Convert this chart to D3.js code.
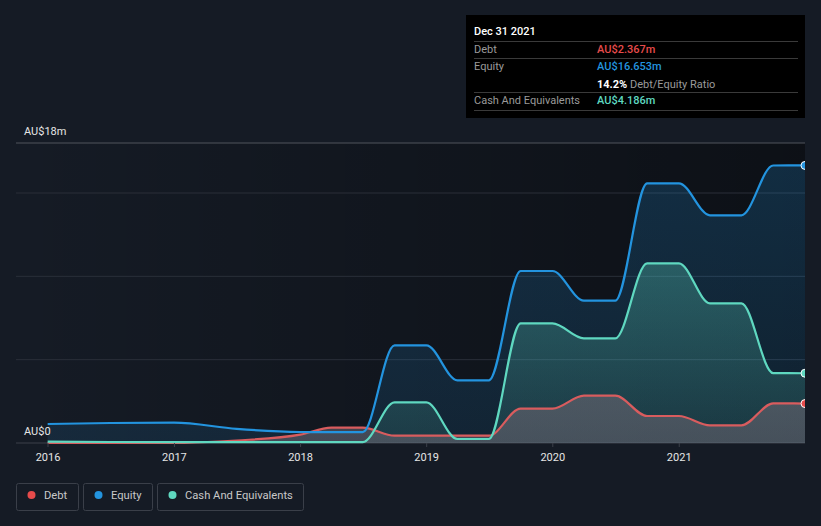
<!DOCTYPE html>
<html><head><meta charset="utf-8">
<script src="https://cdn.jsdelivr.net/npm/d3@7"></script>
<style>
html,body{margin:0;padding:0;background:#151b25;}
svg{display:block;font-family:Roboto,"Noto Sans",sans-serif;}
</style></head>
<body><svg id="c" width="821" height="526"></svg>
<script>
const dates = ["2015-12-31","2016-06-30","2016-12-31","2017-06-30","2017-12-31","2018-03-31","2018-06-30","2018-09-30","2018-12-31","2019-03-31","2019-06-30","2019-09-30","2019-12-31","2020-03-31","2020-06-30","2020-09-30","2020-12-31","2021-03-31","2021-06-30","2021-09-30","2021-12-31"];
const equity = [1.14,1.2,1.22,0.85,0.66,0.65,0.65,5.86,5.86,3.76,3.76,10.32,10.32,8.54,8.54,15.58,15.58,13.66,13.66,16.65,16.653];
const cash = [0.08,0.06,0.05,0.05,0.05,0.05,0.05,2.44,2.44,0.24,0.24,7.18,7.18,6.28,6.28,10.78,10.78,8.38,8.38,4.19,4.186];
const debt = [0,0,0,0.15,0.5,0.92,0.92,0.44,0.44,0.44,0.44,2.06,2.06,2.84,2.84,1.62,1.62,1.06,1.06,2.38,2.367];
const xTicks = ["2016","2017","2018","2019","2020","2021"];
const yTicks = [0,5,10,15,18];
const yLabels = ["AU$0","AU$18m"];
const seriesNames = ["Debt","Equity","Cash And Equivalents"];
const colors = {debt:"#e64b4b", equity:"#2394df", cash:"#5fd8c0"};

const svg = d3.select("#c");
const parse = d3.timeParse("%Y-%m-%d");
const D = dates.map(parse);
const L = 16, R = 805, T = 143, B = 443;
const x = d3.scaleTime().domain([parse("2016-01-01"), parse("2021-12-31")]).range([48, R]);
const y = d3.scaleLinear().domain([0,18]).range([B,T]);

const defs = svg.append("defs");
const bgG = defs.append("linearGradient").attr("id","bgG").attr("x1",0).attr("x2",1).attr("y1",0).attr("y2",0);
bgG.append("stop").attr("offset",0).attr("stop-color","#000").attr("stop-opacity",0);
bgG.append("stop").attr("offset",1).attr("stop-color","#000").attr("stop-opacity",0.4);
function vgrad(id, c, o1, o2){
  const g = defs.append("linearGradient").attr("id",id).attr("gradientUnits","userSpaceOnUse")
    .attr("x1",0).attr("x2",0).attr("y1",T).attr("y2",B);
  g.append("stop").attr("offset",0).attr("stop-color",c).attr("stop-opacity",o1);
  g.append("stop").attr("offset",1).attr("stop-color",c).attr("stop-opacity",o2);
}
vgrad("eqG", colors.equity, 0.22, 0.12);
vgrad("caG", colors.cash, 0.42, 0.12);
vgrad("deG", "#6a6570", 0.85, 0.55);
defs.append("clipPath").attr("id","clip").append("rect").attr("x",L).attr("y",0).attr("width",R-L).attr("height",B+1);

svg.append("rect").attr("x",L).attr("y",T).attr("width",R-L).attr("height",B-T).attr("fill","url(#bgG)");

// gridlines
svg.append("g").selectAll("line").data(yTicks).join("line")
  .attr("x1",L).attr("x2",R).attr("y1",d=>y(d)).attr("y2",d=>y(d))
  .attr("stroke",d=>d===18?"#50545c":(d===0?"#3c414a":"#2a2f39")).attr("stroke-width",1);

const g = svg.append("g").attr("clip-path","url(#clip)");
function area(vals){ return d3.area().x((d,i)=>x(D[i])).y0(y(0)).y1(d=>y(d)).curve(d3.curveMonotoneX)(vals); }
function line(vals){ return d3.line().x((d,i)=>x(D[i])).y(d=>y(d)).curve(d3.curveMonotoneX)(vals); }
g.append("path").attr("d",area(equity)).attr("fill","url(#eqG)");
g.append("path").attr("d",area(cash)).attr("fill","url(#caG)");
g.append("path").attr("d",area(debt)).attr("fill","url(#deG)");
g.append("path").attr("d",line(debt)).attr("fill","none").attr("stroke","#d95c5e").attr("stroke-width",2.2);
g.append("path").attr("d",line(equity)).attr("fill","none").attr("stroke",colors.equity).attr("stroke-width",2.2);
g.append("path").attr("d",line(cash)).attr("fill","none").attr("stroke",colors.cash).attr("stroke-width",2.2);
const last = D.length-1;
[[debt,colors.debt],[equity,colors.equity],[cash,colors.cash]].forEach(([v,c])=>{
  g.append("circle").attr("cx",x(D[last])).attr("cy",y(v[last])).attr("r",4).attr("fill",c).attr("stroke","#fff").attr("stroke-width",1);
});

// x axis
const xa = svg.append("g");
xTicks.forEach(t=>{
  const px = x(parse(t+"-01-01"));
  xa.append("line").attr("x1",px).attr("x2",px).attr("y1",B).attr("y2",B+4).attr("stroke","#3c414a");
  xa.append("text").attr("x",px).attr("y",461).attr("text-anchor","middle").attr("fill","#e6e6e6").attr("font-size",11).text(t);
});
svg.append("text").attr("x",24).attr("y",135).attr("fill","#e6e6e6").attr("font-size",11).text(yLabels[1]);
svg.append("text").attr("x",24).attr("y",435).attr("fill","#e6e6e6").attr("font-size",11).text(yLabels[0]);

// tooltip
const tt = svg.append("g");
tt.append("rect").attr("x",466).attr("y",15).attr("width",339).attr("height",103).attr("fill","#000");
tt.append("text").attr("x",474).attr("y",35).attr("fill","#fff").attr("font-size",11).attr("font-weight",500).text("Dec 31 2021");
[41,58,92,110].forEach(yy=>tt.append("line").attr("x1",474).attr("x2",798).attr("y1",yy+0.5).attr("y2",yy+0.5).attr("stroke","#3a3a3a"));
const rows = [["Debt","AU$2.367m",colors.debt,53],["Equity","AU$16.653m",colors.equity,70],["Cash And Equivalents","AU$4.186m",colors.cash,104]];
rows.forEach(r=>{
  tt.append("text").attr("x",474).attr("y",r[3]).attr("fill","#9a9a9a").attr("font-size",11).text(r[0]);
  tt.append("text").attr("x",597).attr("y",r[3]).attr("fill",r[2]).attr("font-size",11).attr("font-weight",500).text(r[1]);
});
const rt = tt.append("text").attr("x",597).attr("y",88).attr("font-size",11);
rt.append("tspan").attr("fill","#fff").attr("font-weight",700).text("14.2%");
rt.append("tspan").attr("fill","#9a9a9a").text(" Debt/Equity Ratio");

// legend
const lg = svg.append("g");
const boxes = [[16.5,62,colors.debt],[83.5,69,colors.equity],[157.5,146,colors.cash]];
seriesNames.forEach((n,i)=>{
  const [bx,bw,c] = boxes[i];
  lg.append("rect").attr("x",bx).attr("y",483.5).attr("width",bw).attr("height",27).attr("rx",2).attr("fill","none").attr("stroke","#3a3f49");
  lg.append("circle").attr("cx",bx+15).attr("cy",495).attr("r",4).attr("fill",c);
  lg.append("text").attr("x",bx+27.5).attr("y",499).attr("fill","#c8c8c8").attr("font-size",11.2).text(n);
});
</script></body></html>
